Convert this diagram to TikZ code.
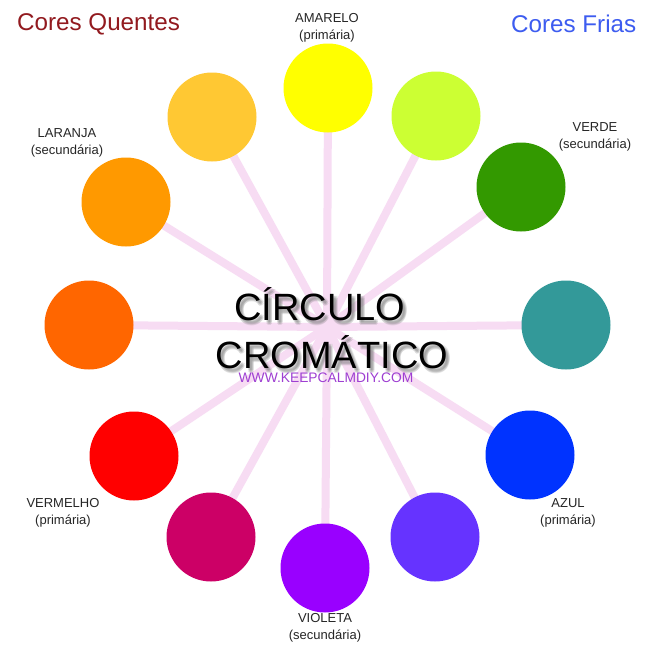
\documentclass[tikz,border=0pt]{standalone}
\usepackage{fontspec}
\setmainfont{Liberation Sans}
\begin{document}
\begin{tikzpicture}[x=1pt,y=-1pt,
  dot/.style={circle,minimum size=89pt,inner sep=0pt,fill=#1},
  spoke/.style={draw=spokecol,line width=8pt},
  lbl/.style={align=center,font=\fontsize{13}{17}\selectfont,text=black!85,inner sep=0pt},
  big/.style={font=\fontsize{38}{40}\selectfont,inner sep=0pt},
  shade/.style={big,text=black!50,opacity=0.18},
  head/.style={font=\fontsize{24.2}{26}\selectfont,inner sep=0pt,anchor=west}]
\definecolor{spokecol}{HTML}{F7DCF3}
\definecolor{quente}{HTML}{921A1F}
\definecolor{fria}{HTML}{3D5CF0}
\definecolor{url}{HTML}{9E3FD2}
\definecolor{c1}{RGB}{255,255,0}
\definecolor{c2}{RGB}{204,255,51}
\definecolor{c3}{RGB}{51,153,0}
\definecolor{c4}{RGB}{51,153,153}
\definecolor{c5}{RGB}{0,51,255}
\definecolor{c6}{RGB}{102,51,255}
\definecolor{c7}{RGB}{153,0,255}
\definecolor{c8}{RGB}{204,0,102}
\definecolor{c9}{RGB}{255,0,0}
\definecolor{c10}{RGB}{255,102,0}
\definecolor{c11}{RGB}{255,153,0}
\definecolor{c12}{RGB}{255,200,51}
\useasboundingbox[fill=white] (0,0) rectangle (651,645);
\coordinate (c) at (327,327);
\coordinate (p1) at (328,88);
\coordinate (p2) at (436,116);
\coordinate (p3) at (521,187);
\coordinate (p4) at (566,325);
\coordinate (p5) at (530,455);
\coordinate (p6) at (435,537);
\coordinate (p7) at (325,568);
\coordinate (p8) at (211,537);
\coordinate (p9) at (134,456);
\coordinate (p10) at (89,325);
\coordinate (p11) at (126,202);
\coordinate (p12) at (212,117);
\foreach \i in {1,...,12} \draw[spoke] (c) -- (p\i);
\node[dot=c1] (amarelo) at (p1) {};
\node[dot=c2] (amverde) at (p2) {};
\node[dot=c3] (verde) at (p3) {};
\node[dot=c4] (azverde) at (p4) {};
\node[dot=c5] (azul) at (p5) {};
\node[dot=c6] (azvioleta) at (p6) {};
\node[dot=c7] (violeta) at (p7) {};
\node[dot=c8] (vermvioleta) at (p8) {};
\node[dot=c9] (vermelho) at (p9) {};
\node[dot=c10] (vermlaranja) at (p10) {};
\node[dot=c11] (laranja) at (p11) {};
\node[dot=c12] (amlaranja) at (p12) {};
% labels
\node[lbl] (lamarelo) at (327,28) {AMARELO\\(primária)};
\node[lbl] (llaranja) at (67,143) {LARANJA\\(secundária)};
\node[lbl] (lverde) at (595,137) {VERDE\\(secundária)};
\node[lbl] (lvermelho) at (63,513) {VERMELHO\\(primária)};
\node[lbl] (lazul) at (568,513) {AZUL\\(primária)};
\node[lbl] (lvioleta) at (325,628) {VIOLETA\\(secundária)};
% headings
\node[head,text=quente] (quentes) at (17,24) {Cores Quentes};
\node[head,text=fria] (frias) at (511,24) {Cores Frias};
% title with soft shadow
\foreach \dx/\dy in {2/2,3/3,4/4,2/4,4/2,3/5}{
  \node[shade] at (320+\dx,304+\dy) {CÍRCULO};
  \node[shade] at (332+\dx,352+\dy) {CROMÁTICO};
}
\node[big] (t1) at (320,304) {CÍRCULO};
\node[big] (t2) at (332,352) {CROMÁTICO};
\node[font=\fontsize{13.8}{15}\selectfont,text=url,inner sep=0pt] (web) at (326,378) {WWW.KEEPCALMDIY.COM};
\end{tikzpicture}
\end{document}
